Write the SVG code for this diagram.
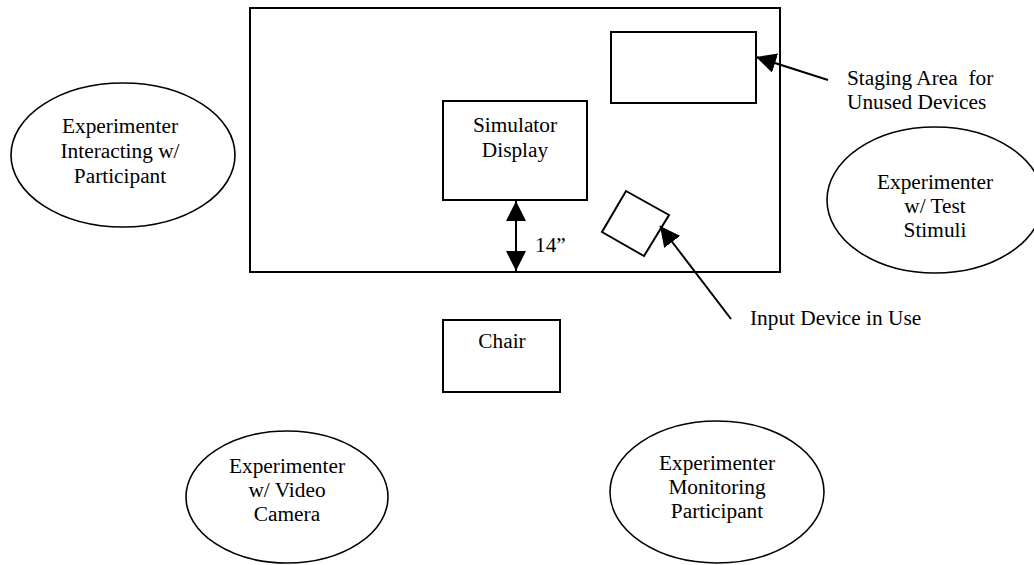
<svg xmlns="http://www.w3.org/2000/svg" width="1034" height="565" viewBox="0 0 1034 565">
<style>
.box{fill:#fff;stroke:#000;stroke-width:2}
.ell{fill:#fff;stroke:#000;stroke-width:1.6}
.t{font-family:"Liberation Serif","Times New Roman",serif;font-size:21.33px;fill:#000;white-space:pre}
.c{text-anchor:middle}
.ln{stroke:#000;stroke-width:2;fill:none}
</style>
<defs>
<marker id="ah" viewBox="0 0 20 20" refX="20" refY="10" markerWidth="20" markerHeight="20" markerUnits="userSpaceOnUse" orient="auto-start-reverse">
<path d="M0,0 L20,10 L0,20 Z" fill="#000"/>
</marker>
</defs>
<rect width="1034" height="565" fill="#fff"/>
<g id="room">
<rect class="box" x="250" y="8" width="530" height="264"/>
</g>
<g id="staging">
<rect class="box" x="611" y="32" width="145" height="71"/>
</g>
<g id="simulator">
<rect class="box" x="443" y="101" width="144" height="99"/>
<text class="t c" x="515" y="132">Simulator</text>
<text class="t c" x="515" y="157">Display</text>
</g>
<g id="input-device">
<polygon class="box" points="626,191 669,215 644,256 602,232"/>
</g>
<g id="chair">
<rect class="box" x="443" y="320" width="117" height="72"/>
<text class="t c" x="502" y="348">Chair</text>
</g>
<g id="exp-interacting">
<ellipse class="ell" cx="123" cy="155" rx="112" ry="72"/>
<text class="t c" x="120" y="133">Experimenter</text>
<text class="t c" x="120" y="158">Interacting w/</text>
<text class="t c" x="120" y="183">Participant</text>
</g>
<g id="exp-stimuli">
<ellipse class="ell" cx="935" cy="200" rx="108" ry="73"/>
<text class="t c" x="935" y="189">Experimenter</text>
<text class="t c" x="935" y="213">w/ Test</text>
<text class="t c" x="935" y="237">Stimuli</text>
</g>
<g id="exp-camera">
<ellipse class="ell" cx="287" cy="497" rx="101" ry="66"/>
<text class="t c" x="287" y="473">Experimenter</text>
<text class="t c" x="287" y="497">w/ Video</text>
<text class="t c" x="287" y="521">Camera</text>
</g>
<g id="exp-monitoring">
<ellipse class="ell" cx="717" cy="492" rx="107" ry="71"/>
<text class="t c" x="717" y="470">Experimenter</text>
<text class="t c" x="717" y="494">Monitoring</text>
<text class="t c" x="717" y="518">Participant</text>
</g>
<g id="labels">
<text class="t" x="847" y="85">Staging Area  for</text>
<text class="t" x="847" y="109">Unused Devices</text>
<text class="t" x="750" y="325">Input Device in Use</text>
<text class="t" x="535" y="252">14”</text>
</g>
<g id="connectors">
<line class="ln" x1="828" y1="80" x2="756" y2="57" marker-end="url(#ah)"/>
<line class="ln" x1="731" y1="319" x2="660" y2="226" marker-end="url(#ah)"/>
<line class="ln" x1="516" y1="201" x2="516" y2="271" marker-start="url(#ah)" marker-end="url(#ah)"/>
</g>
</svg>
